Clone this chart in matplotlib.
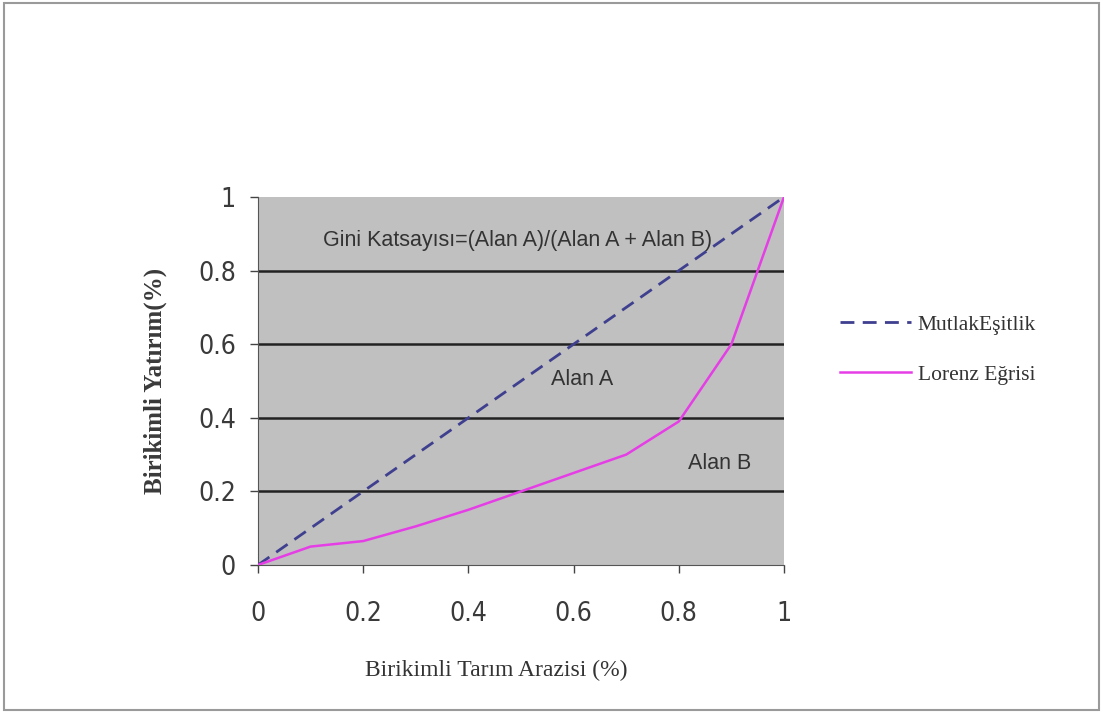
import matplotlib.pyplot as plt
from matplotlib.patches import Rectangle

# Cumulative shares
x_share = [0, 0.1, 0.2, 0.3, 0.4, 0.5, 0.6, 0.7, 0.8, 0.9, 1.0]
equality = [0, 0.1, 0.2, 0.3, 0.4, 0.5, 0.6, 0.7, 0.8, 0.9, 1.0]
lorenz = [0, 0.05, 0.065, 0.105, 0.15, 0.20, 0.25, 0.30, 0.39, 0.60, 1.0]
ticks = [0, 0.2, 0.4, 0.6, 0.8, 1]
tick_labels = ['0', '0.2', '0.4', '0.6', '0.8', '1']

NARROW = ['DejaVu Sans', 'Liberation Sans']
SANS = ['Liberation Sans', 'DejaVu Sans']
SERIF = ['Liberation Serif', 'DejaVu Serif']

fig = plt.figure(figsize=(11.03, 7.13), dpi=100)
fig.patches.append(Rectangle((0.004, 0.004), 0.992, 0.992, transform=fig.transFigure,
                             fill=False, edgecolor='#9a9a9a', linewidth=1.5))

ax = fig.add_axes([0.2339, 0.2076, 0.4769, 0.5161])
ax.set_facecolor('#c0c0c0')
ax.set_xlim(0, 1)
ax.set_ylim(0, 1)

for y in [0.2, 0.4, 0.6, 0.8]:
    ax.axhline(y, color='#222222', linewidth=1.8, zorder=1)

ax.plot(x_share, equality, color='#3f3f8f', linestyle=(0, (5, 3)), linewidth=2,
        label='MutlakEşitlik', zorder=3)
ax.plot(x_share, lorenz, color='#e63ee6', linewidth=1.8, label='Lorenz Eğrisi', zorder=3)

ax.set_xticks(ticks)
ax.set_xticklabels(tick_labels, family=NARROW, fontstretch='condensed',
                   fontsize=19, color='#3a3a3a')
ax.set_yticks(ticks)
ax.set_yticklabels(tick_labels, family=NARROW, fontstretch='condensed',
                   fontsize=19, color='#3a3a3a')
ax.tick_params(direction='out', length=6, width=1, color='#444444')
ax.tick_params(axis='x', pad=20)
ax.tick_params(axis='y', pad=10)
for s in ax.spines.values():
    s.set_color('#555555')
ax.spines['top'].set_visible(False)
ax.spines['right'].set_visible(False)

ax.set_xlabel('Birikimli Tarım Arazisi (%)', family=SERIF, fontsize=17,
              color='#333333')
ax.xaxis.set_label_coords(0.452, -0.258)
ax.set_ylabel('Birikimli Yatırım(%)', family=SERIF, fontsize=18, fontweight='bold',
              color='#3a3a3a', labelpad=22)

ax.text(0.124, 0.883, 'Gini Katsayısı=(Alan A)/(Alan A + Alan B)', family=SANS,
        fontsize=15.5, color='#333333', va='center', ha='left')
ax.text(0.616, 0.503, 'Alan A', family=SANS, fontsize=15.5, color='#333333',
        va='center', ha='center')
ax.text(0.878, 0.277, 'Alan B', family=SANS, fontsize=15.5, color='#333333',
        va='center', ha='center')

ax.legend(loc='center left', bbox_to_anchor=(1.07, 0.585), frameon=False,
          prop={'family': SERIF, 'size': 15.5}, handlelength=3.3, labelspacing=1.4,
          handletextpad=0.3, labelcolor='#333333')

fig.savefig('out.png', dpi=100)
